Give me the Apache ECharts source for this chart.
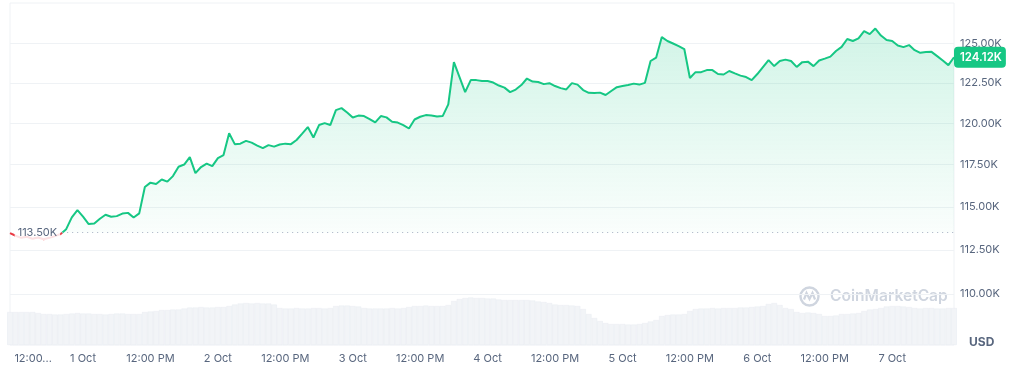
<!DOCTYPE html>
<html><head><meta charset="utf-8">
<script src="https://cdn.jsdelivr.net/npm/echarts@6/dist/echarts.min.js"></script>
<style>html,body{margin:0;padding:0;background:#fff}#c{width:1014px;height:368px}</style>
</head><body><div id="c"></div>
<script>
// Hourly BTC price (K USD), 30 Sep 11:00 -> 7 Oct 11:00
const prices = [
113.47,113.32,113.20,113.26,113.15,113.22,113.12,113.20,113.30,113.42,
113.70,114.39,114.81,114.43,114.00,114.03,114.31,114.54,114.42,114.46,
114.61,114.65,114.38,114.62,116.17,116.43,116.35,116.62,116.49,116.82,
117.38,117.51,117.96,117.00,117.36,117.57,117.42,117.90,118.08,119.40,
118.74,118.77,118.94,118.83,118.65,118.50,118.68,118.59,118.72,118.77,
118.74,118.99,119.38,119.78,119.14,119.90,120.02,119.90,120.82,120.94,
120.67,120.36,120.48,120.45,120.27,120.06,120.45,120.37,120.10,120.05,
119.90,119.69,120.24,120.41,120.51,120.48,120.42,120.45,121.17,123.81,
122.87,121.93,122.68,122.68,122.62,122.62,122.53,122.34,122.21,121.93,
122.09,122.37,122.78,122.59,122.56,122.43,122.49,122.31,122.18,122.10,
122.49,122.40,122.06,121.89,121.87,121.90,121.75,122.00,122.24,122.31,
122.37,122.46,122.40,122.51,123.88,124.10,125.40,125.15,124.99,124.83,
124.64,122.81,123.18,123.18,123.31,123.31,123.06,123.03,123.25,123.10,
122.96,122.87,122.68,123.06,123.50,123.94,123.56,123.88,123.97,123.88,
123.51,123.81,123.84,123.56,123.91,124.03,124.16,124.51,124.78,125.28,
125.15,125.32,125.79,125.59,125.95,125.50,125.21,125.15,124.86,124.76,
124.89,124.57,124.40,124.45,124.46,124.19,123.91,123.62,124.12
];
// Hourly volume (relative units)
const volumes = [
33,33,33,33,33,32,31,31,30.5,30.5,
31,31.5,32,31.5,31.5,31,31,30.5,31,31.5,
31.5,31,31,31,33,33.5,34,35,35,35.5,
35.5,36.5,37.5,37.5,38,37.5,37.5,38,38,39,
40.5,41.5,42,41.5,42,41.5,41.5,40.5,37,36.5,
36.5,37,36.5,36.5,37,37,36.5,37,39,39.5,
39.5,39,38.5,37,36.5,36.5,36.5,36.5,37,36.5,
37,38,39,39,39.5,39,39,39,40,44,
46,47,47.5,47,47,46.5,46.5,45.5,45,45,
45,45,45,44.5,43.5,43,42,40.5,40,40,
39.5,39,36,31,27,24,22,21,21,21,
20.5,20.5,21,22,23.5,25,29,30,30.5,30.5,
31,34,36,36.5,36.5,37,36.5,37,37,37,
37.5,37.5,38,38.5,39,41,42,40,37,36,
33,32,32.5,32,31,29,29,29.5,31,31,
31.5,32,34,35.5,36,37,38.5,39,39,38.5,
38,37,36.5,37,37,36.5,36.5,37,37
];
const openPrice = 113.50;
const lastPrice = 124.12;
const yTicks = [110, 112.5, 115, 117.5, 120, 122.5, 125];
const yRange = [107.18, 127.6];
const xLabelHours = [1,13,25,37,49,61,73,85,97,109,121,133,145,157];
const xLabels = ['12:00...','1 Oct','12:00 PM','2 Oct','12:00 PM','3 Oct','12:00 PM','4 Oct','12:00 PM','5 Oct','12:00 PM','6 Oct','12:00 PM','7 Oct'];

const FONT = 'Inter, "Noto Sans", sans-serif';
const GRAY = '#58667e';
const lnOpen = Math.log(openPrice);
const lastHour = prices.length - 1;
// first crossing above the open price
let ci = 1;
while (ci < prices.length && !(prices[ci] >= openPrice && prices[ci-1] < openPrice)) ci++;
const cross = ci - 1 + (openPrice - prices[ci-1]) / (prices[ci] - prices[ci-1]);
const redData = prices.slice(0, ci).map((p, i) => [i, Math.log(p)]).concat([[cross, lnOpen]]);
const greenData = [[cross, lnOpen]].concat(prices.slice(ci).map((p, i) => [ci + i, Math.log(p)]));

const chart = echarts.init(document.getElementById('c'), null, {renderer: 'canvas'});
chart.setOption({
  animation: false,
  grid: [
    {left: 10, right: 60, top: 3, bottom: 23, show: true, borderColor: '#eff2f5', borderWidth: 1},
    {left: 10, right: 60, top: 290, bottom: 23}
  ],
  xAxis: [
    {type: 'value', gridIndex: 0, min: 0, max: lastHour, show: false},
    {type: 'value', gridIndex: 1, min: 0, max: lastHour,
      axisLine: {show: false}, axisTick: {show: false}, splitLine: {show: false},
      axisLabel: {
        customValues: xLabelHours, color: GRAY, fontSize: 11, fontFamily: FONT, margin: 8,
        formatter: v => {
          const k = xLabelHours.indexOf(v);
          const t = k >= 0 ? xLabels[k] : '';
          return k === 0 ? '{a|' + t + '}' : t;
        },
        rich: {a: {padding: [0, 0, 0, 35], color: GRAY, fontSize: 11, fontFamily: FONT}}
      }
    }
  ],
  yAxis: [
    {type: 'value', gridIndex: 0, position: 'right',
      min: Math.log(yRange[0]), max: Math.log(yRange[1]),
      axisLine: {show: false},
      axisTick: {show: false, customValues: yTicks.map(Math.log)},
      splitLine: {show: true, lineStyle: {color: '#eff2f5', width: 1}},
      axisLabel: {customValues: yTicks.map(Math.log), color: GRAY, fontSize: 11, fontFamily: FONT, margin: 6,
        formatter: v => Math.exp(v).toFixed(2) + 'K'}
    },
    {type: 'value', gridIndex: 1, min: 0, max: 55, show: false}
  ],
  series: [
    {type: 'bar', xAxisIndex: 1, yAxisIndex: 1, z: 1,
      data: volumes.map((v, i) => [i, v]), barWidth: 5.62,
      itemStyle: {color: '#f2f4f7', borderColor: '#e9ecf1', borderWidth: 0.6}, silent: true},
    {type: 'line', xAxisIndex: 0, yAxisIndex: 0, z: 3,
      data: redData, showSymbol: false, symbol: 'none',
      lineStyle: {width: 2, color: '#ea3943'},
      areaStyle: {origin: lnOpen, color: 'rgba(234,57,67,0.06)'}
    },
    {type: 'line', xAxisIndex: 0, yAxisIndex: 0, z: 3,
      data: greenData, showSymbol: false, symbol: 'none',
      lineStyle: {width: 2, color: '#16c784'},
      areaStyle: {
        origin: lnOpen,
        color: new echarts.graphic.LinearGradient(0, 0, 0, 1, [
          {offset: 0, color: 'rgba(22,199,132,0.28)'},
          {offset: 1, color: 'rgba(22,199,132,0.03)'}
        ])
      },
      markLine: {
        silent: true, symbol: 'none', animation: false,
        data: [
          [
            {coord: [cross, lnOpen],
              lineStyle: {color: '#a6b0c3', type: [1, 4], width: 1},
              label: {show: true, position: 'start', distance: 2, formatter: openPrice.toFixed(2) + 'K',
                color: GRAY, fontSize: 11, fontFamily: FONT,
                backgroundColor: 'rgba(255,255,255,0.85)', padding: [2, 3]}},
            {coord: [lastHour, lnOpen]}
          ],
          [
            {coord: [lastHour - 1, Math.log(lastPrice)],
              lineStyle: {color: 'rgba(0,0,0,0)', width: 1},
              label: {show: true, position: 'end', distance: 0, formatter: lastPrice.toFixed(2) + 'K',
                color: '#fff', fontSize: 11.5, fontWeight: 600, fontFamily: FONT,
                backgroundColor: '#16c784', borderRadius: 4, padding: [5, 4, 4, 6]}},
            {coord: [lastHour, Math.log(lastPrice)]}
          ]
        ]
      }
    }
  ],
  graphic: [
    {type: 'group', left: 798, top: 285, silent: true, children: [
      {type: 'circle', shape: {cx: 10, cy: 10, r: 9}, style: {fill: 'none', stroke: '#cfd5df', lineWidth: 2.4}},
      {type: 'polyline', shape: {points: [[4.5, 13], [7, 6.5], [10, 12.5], [13, 6.5], [15.5, 13]]},
        style: {fill: 'none', stroke: '#cfd5df', lineWidth: 2.2}}
    ]},
    {type: 'text', left: 830, top: 288, silent: true,
      style: {text: 'CoinMarketCap', fill: '#cfd5df', font: '600 15.6px ' + FONT}},
    {type: 'text', left: 969, top: 336, silent: true,
      style: {text: 'USD', fill: GRAY, font: '700 12px ' + FONT}}
  ]
});
</script>
</body></html>
